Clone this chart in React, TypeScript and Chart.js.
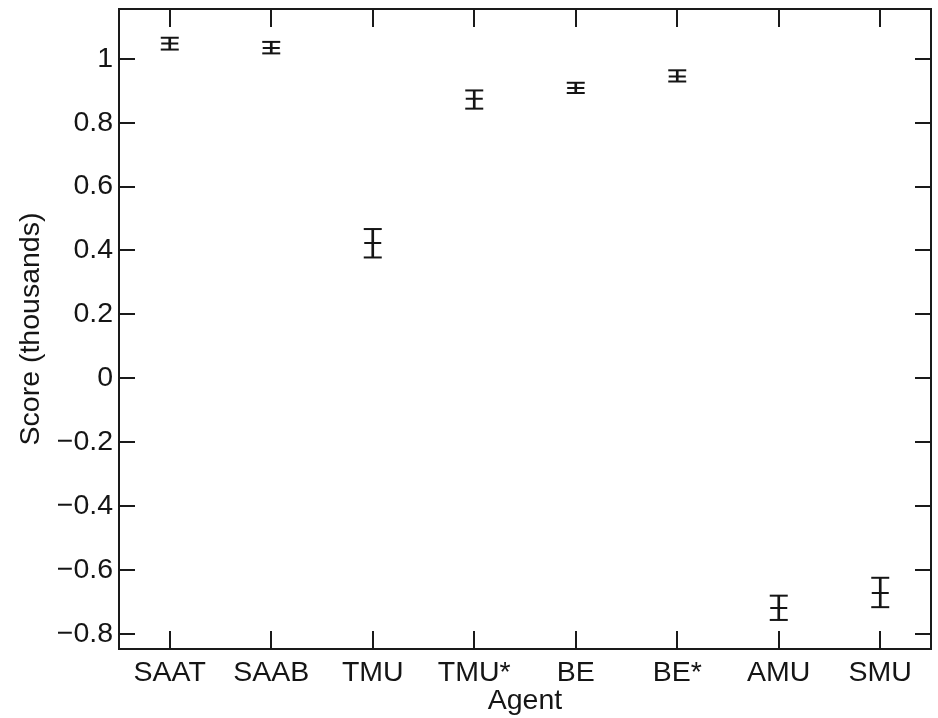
import React, { useEffect, useRef } from "react";
import { Chart, registerables } from "chart.js";

Chart.register(...registerables);

const agents = ["SAAT", "SAAB", "TMU", "TMU*", "BE", "BE*", "AMU", "SMU"];
const means = [1.048, 1.034, 0.423, 0.875, 0.909, 0.945, -0.72, -0.673];
const upper = [1.066, 1.053, 0.467, 0.901, 0.925, 0.964, -0.681, -0.625];
const lower = [1.029, 1.017, 0.378, 0.844, 0.893, 0.929, -0.757, -0.717];
const yTicks = [-0.8, -0.6, -0.4, -0.2, 0, 0.2, 0.4, 0.6, 0.8, 1];
const yMin = -0.848;
const yMax = 1.156;

const FONT = "'Liberation Sans', Arial, Helvetica, sans-serif";
const INK = "#151515";

const framePlugin = {
  id: "frame",
  afterDraw(chart: any) {
    const { ctx, chartArea: a, scales } = chart;
    ctx.save();
    ctx.strokeStyle = "#1a1a1a";
    ctx.lineWidth = 2;
    ctx.strokeRect(a.left, a.top, a.right - a.left, a.bottom - a.top);
    ctx.beginPath();
    scales.x.ticks.forEach((_t: any, i: number) => {
      const x = Math.round(scales.x.getPixelForTick(i));
      ctx.moveTo(x, a.bottom);
      ctx.lineTo(x, a.bottom - 18);
      ctx.moveTo(x, a.top);
      ctx.lineTo(x, a.top + 18);
    });
    scales.y.ticks.forEach((_t: any, i: number) => {
      const y = Math.round(scales.y.getPixelForTick(i));
      ctx.moveTo(a.left, y);
      ctx.lineTo(a.left + 16, y);
      ctx.moveTo(a.right, y);
      ctx.lineTo(a.right - 16, y);
    });
    ctx.stroke();
    ctx.restore();
  },
};

export default function App() {
  const ref = useRef<HTMLCanvasElement>(null);
  useEffect(() => {
    document.body.style.margin = "0";
    const canvas = ref.current!;
    const chart = new Chart(canvas, {
      type: "bar",
      data: {
        labels: agents,
        datasets: [
          {
            type: "bar",
            data: agents.map((_, i) => [lower[i], upper[i]]) as any,
            backgroundColor: INK,
            borderWidth: 0,
            barThickness: 2,
          } as any,
          {
            type: "line",
            data: means,
            showLine: false,
            pointStyle: "line",
            pointRadius: 8.5,
            pointBorderWidth: 2,
            pointBorderColor: INK,
          } as any,
          {
            type: "line",
            data: upper,
            showLine: false,
            pointStyle: "line",
            pointRadius: 9,
            pointBorderWidth: 2,
            pointBorderColor: INK,
          } as any,
          {
            type: "line",
            data: lower,
            showLine: false,
            pointStyle: "line",
            pointRadius: 9,
            pointBorderWidth: 2,
            pointBorderColor: INK,
          } as any,
        ],
      },
      options: {
        responsive: false,
        animation: false,
        events: [],
        layout: { autoPadding: false, padding: { top: 9, right: 7, left: 0, bottom: 0 } },
        plugins: { legend: { display: false }, tooltip: { enabled: false } },
        scales: {
          x: {
            type: "category",
            offset: true,
            grid: { display: false, drawTicks: false },
            border: { display: false },
            ticks: { color: INK, font: { family: FONT, size: 28.5 }, padding: 7, maxRotation: 0, autoSkip: false },
            title: { display: true, text: "Agent", color: INK, font: { family: FONT, size: 28.5 }, padding: { top: 0, bottom: 0 } },
            afterFit: (s: any) => {
              s.height = 69;
              s.paddingLeft = 0;
              s.paddingRight = 0;
            },
          },
          y: {
            type: "linear",
            min: yMin,
            max: yMax,
            grid: { display: false, drawTicks: false },
            border: { display: false },
            afterBuildTicks: (s: any) => {
              s.ticks = yTicks.map((v) => ({ value: v }));
            },
            ticks: {
              color: INK,
              font: { family: FONT, size: 28.5 },
              padding: 6,
              callback: (v: any) => {
                const n = Math.round(Number(v) * 10) / 10;
                const s = String(Math.abs(n));
                return n < 0 ? "\u2212" + s : s;
              },
            },
            title: { display: true, text: "Score (thousands)", color: INK, font: { family: FONT, size: 28.5 }, padding: { top: 14, bottom: 0 } },
            afterFit: (s: any) => {
              s.width = 119;
              s.paddingTop = 0;
              s.paddingBottom = 0;
            },
          },
        },
      },
      plugins: [framePlugin],
    });
    return () => chart.destroy();
  }, []);
  return (
    <div style={{ width: 938, height: 718, background: "#fff" }}>
      <canvas ref={ref} width={938} height={718} style={{ display: "block" }} />
    </div>
  );
}
